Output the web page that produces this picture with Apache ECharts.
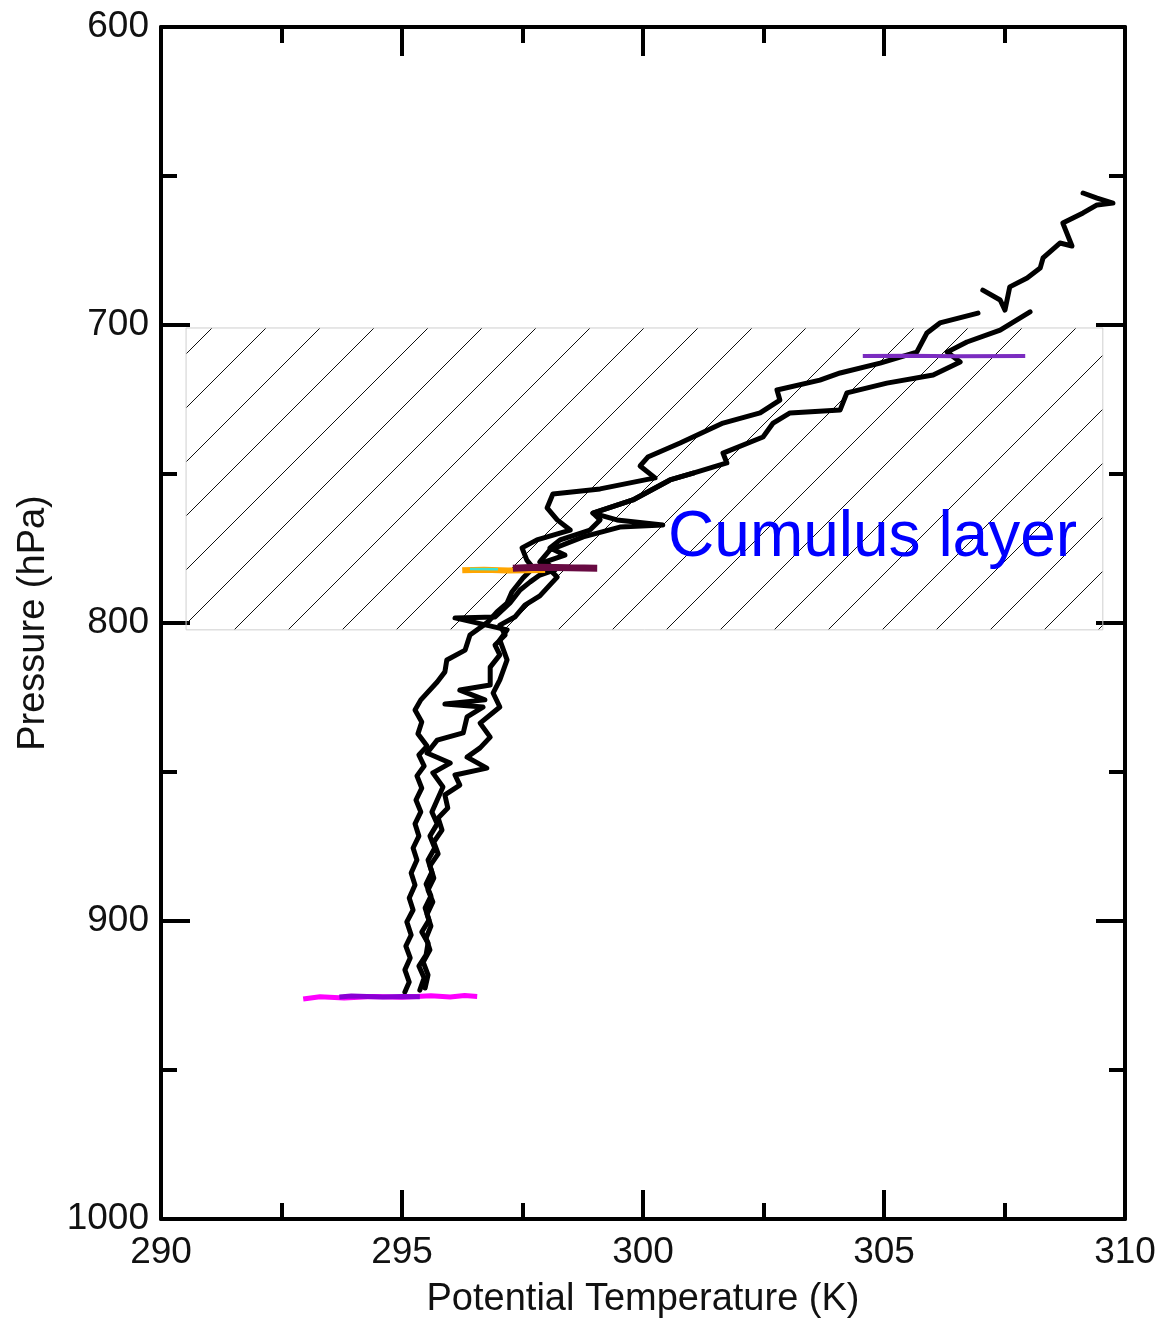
<!DOCTYPE html>
<html>
<head>
<meta charset="utf-8">
<title>Potential temperature profiles</title>
<script src="https://cdn.jsdelivr.net/npm/echarts@6/dist/echarts.min.js"></script>
<style>
  html, body { margin: 0; padding: 0; background: #fff; }
  #chart { width: 1166px; height: 1326px; }
</style>
</head>
<body>
<div id="chart"></div>
<script>
// soundings, each point is [potential temperature (K), pressure (hPa)]
const profileA = [[295.06,923.8],[295.15,920.5],[295.06,916.4],[295.17,912.4],[295.08,908.4],[295.19,904.7],[295.10,900.3],[295.23,896.3],[295.15,892.3],[295.27,887.9],[295.19,883.9],[295.31,879.5],[295.23,875.5],[295.35,871.5],[295.27,867.4],[295.39,863.4],[295.29,859.4],[295.41,855.4],[295.31,851.3],[295.46,848.0],[295.35,844.3],[295.52,841.3],[295.33,837.2],[295.41,833.2],[295.27,829.2],[295.39,825.8],[295.73,819.8],[295.89,816.4],[295.93,812.4],[296.31,809.1],[296.41,804.0],[296.78,799.7],[296.97,796.3],[297.18,793.3],[297.28,789.6],[297.51,784.9],[297.72,781.5],[297.59,778.9],[297.49,774.8],[297.80,772.1],[298.49,768.8],[298.22,765.4],[298.01,761.4],[298.13,756.7],[299.11,755.0],[300.25,751.3],[299.94,747.3],[300.10,744.3],[300.77,739.6],[301.66,732.9],[302.43,729.5],[302.84,725.2],[302.78,721.8],[303.67,718.5],[304.09,716.1],[304.92,712.8],[305.68,709.1],[305.89,702.7],[306.16,699.3],[306.95,696.0]]

const profileB = [[295.37,923.2],[295.46,919.1],[295.35,915.1],[295.50,911.4],[295.54,907.4],[295.41,903.7],[295.56,899.7],[295.48,895.6],[295.60,891.6],[295.50,887.6],[295.62,883.6],[295.54,879.5],[295.68,875.5],[295.58,871.5],[295.73,867.4],[295.62,863.4],[295.73,859.4],[295.85,855.0],[295.64,850.3],[296.00,847.0],[295.52,843.6],[295.73,839.3],[296.27,836.9],[296.35,831.5],[296.68,828.2],[295.89,827.2],[296.72,825.8],[296.20,822.5],[296.83,820.8],[296.83,814.8],[297.03,810.7],[296.93,807.4],[297.14,804.0],[297.03,800.7],[297.34,798.0],[297.55,794.0],[297.86,790.9],[298.07,787.2],[298.22,784.6],[298.03,781.5],[297.86,779.5],[298.07,775.5],[298.76,771.1],[299.52,767.8],[300.41,767.1],[299.46,765.4],[298.96,763.1],[299.79,758.7],[300.56,752.0],[301.04,749.7],[301.74,746.3],[301.66,743.0],[302.49,737.6],[302.70,732.9],[303.05,729.5],[304.09,728.5],[304.23,722.8],[305.06,719.5],[306.02,716.8],[306.58,712.4],[306.31,709.1],[306.72,705.7],[307.41,701.7],[308.03,695.6]]

const profileC = [[295.48,922.5],[295.54,918.1],[295.44,913.8],[295.58,909.7],[295.50,905.7],[295.60,901.7],[295.52,897.7],[295.64,893.6],[295.54,889.6],[295.66,885.6],[295.58,881.5],[295.75,877.5],[295.66,873.5],[295.83,869.5],[295.75,865.4],[295.95,862.1],[295.89,857.7],[296.20,854.4],[296.10,851.0],[296.76,848.7],[296.35,845.0],[296.62,841.9],[296.83,838.3],[296.62,833.6],[297.03,828.2],[296.89,823.5],[297.03,819.1],[297.18,812.4],[297.03,805.7],[297.18,802.3],[296.10,798.3],[296.93,798.0],[297.24,793.3],[297.45,788.9],[297.66,786.2],[297.86,783.9],[298.17,782.2],[297.97,779.5],[298.38,777.2],[298.07,774.8],[298.28,772.1],[298.90,768.8],[299.11,765.4],[298.96,763.1],[299.79,758.7],[300.56,752.0],[301.04,749.7]]

// upper piece above the cumulus layer
const profileTop = [[307.05,688.3],[307.41,691.6],[307.51,695.0],[307.61,687.2],[307.97,684.2],[308.24,680.9],[308.30,677.5],[308.65,672.5],[308.90,673.5],[308.71,665.8],[309.13,662.4],[309.42,659.7],[309.75,659.1],[309.42,657.4],[309.13,655.7]]

// constant pressure flight legs
const legMagenta = [[292.95,926.2],[293.3,925.4],[293.8,925.8],[294.4,925.3],[295.0,925.6],[295.6,925.1],[296.0,925.5],[296.3,925.0],[296.56,925.3]]
const legViolet = [[293.7,925.5],[293.95,925.2],[294.6,925.5],[295.0,925.3],[295.37,925.4]]
const legOrange = [[296.25,782.3],[296.7,782.1],[297.2,782.4],[297.97,782.2]]
const legCyan = [[296.41,781.9],[296.99,782.0]]
const legMaroon = [[297.3,781.6],[297.8,781.3],[298.5,781.5],[299.05,781.6]]
const legPurple = [[304.56,710.4],[305.5,710.3],[306.5,710.5],[307.93,710.4]]

// cumulus layer box: [theta left, p top], [theta right, p bottom]
const cumulusBox = [[290.52, 701.0], [309.54, 802.3]]
const cumulusLabelAt = [300.52, 771.5]

const xTicks = { min: 290, max: 310, interval: 5 }
const yTicks = { min: 600, max: 1000, interval: 100 }

const FONT = "'Liberation Sans', Arial, Helvetica, sans-serif"

// diagonal hatch tile
function hatchPattern() {
  const size = 54
  const c = document.createElement('canvas')
  c.width = size
  c.height = size
  const ctx = c.getContext('2d')
  ctx.strokeStyle = '#111'
  ctx.lineWidth = 1
  for (const k of [-size, 0, size]) {
    ctx.beginPath()
    ctx.moveTo(k - 10, size + 10)
    ctx.lineTo(k + size + 10, -10)
    ctx.stroke()
  }
  return c
}

function profileSeries(data) {
  return {
    type: 'line',
    data: data,
    symbol: 'none',
    silent: true,
    z: 3,
    lineStyle: { color: '#000', width: 5, join: 'round', cap: 'round' }
  }
}

function legSeries(data, color, width) {
  return {
    type: 'line',
    data: data,
    symbol: 'none',
    silent: true,
    z: 4,
    lineStyle: { color: color, width: width }
  }
}

function valueAxis(range, position, withLabels) {
  return {
    type: 'value',
    position: position,
    min: range.min,
    max: range.max,
    interval: range.interval,
    splitLine: { show: false },
    axisLine: { show: true, onZero: false, lineStyle: { color: '#000', width: 4 } },
    axisTick: { show: true, inside: true, length: 29, lineStyle: { color: '#000', width: 4 } },
    minorTick: { show: true, splitNumber: 2, length: 16, lineStyle: { color: '#000', width: 4 } },
    axisLabel: {
      show: withLabels,
      color: '#111',
      fontSize: 37,
      fontFamily: FONT,
      formatter: function (v) { return String(v) }
    }
  }
}

const xBottom = Object.assign(valueAxis(xTicks, 'bottom', true), {
  name: 'Potential Temperature (K)',
  nameLocation: 'middle',
  nameGap: 62,
  nameTextStyle: { color: '#111', fontSize: 38, fontFamily: FONT }
})
xBottom.axisLabel.margin = 15

const yLeft = Object.assign(valueAxis(yTicks, 'left', true), {
  inverse: true,
  name: 'Pressure (hPa)',
  nameLocation: 'middle',
  nameGap: 108,
  nameTextStyle: { color: '#111', fontSize: 38, fontFamily: FONT }
})
yLeft.axisLabel.margin = 12

const yRight = Object.assign(valueAxis(yTicks, 'right', false), { inverse: true })

const chart = echarts.init(document.getElementById('chart'))

const option = {
  animation: false,
  backgroundColor: '#fff',
  grid: { left: 161, right: 41, top: 27, bottom: 107 },
  xAxis: [xBottom, valueAxis(xTicks, 'top', false)],
  yAxis: [yLeft, yRight],
  series: [
    {
      type: 'line',
      data: [],
      z: 1,
      markArea: {
        silent: true,
        itemStyle: {
          color: { image: hatchPattern(), repeat: 'repeat' },
          borderColor: '#cfcfcf',
          borderWidth: 1
        },
        data: [[{ coord: cumulusBox[0] }, { coord: cumulusBox[1] }]]
      }
    },
    profileSeries(profileA),
    profileSeries(profileB),
    profileSeries(profileC),
    profileSeries(profileTop),
    legSeries(legMagenta, '#ff00ff', 5),
    legSeries(legViolet, '#8a00d4', 5),
    legSeries(legOrange, '#ffa500', 6),
    legSeries(legCyan, '#40e0d0', 2.5),
    legSeries(legMaroon, '#680a42', 7),
    legSeries(legPurple, '#7b2cc0', 4)
  ]
}

chart.setOption(option)

// label for the cumulus layer, anchored in data coordinates
const labelPos = chart.convertToPixel({ xAxisIndex: 0, yAxisIndex: 0 }, cumulusLabelAt)
chart.setOption({
  graphic: [{
    type: 'text',
    x: labelPos[0],
    y: labelPos[1],
    z: 10,
    style: {
      text: 'Cumulus layer',
      fill: '#0000ff',
      font: "64px 'Liberation Sans', Arial, Helvetica, sans-serif",
      verticalAlign: 'middle',
      align: 'left'
    }
  }]
})
</script>
</body>
</html>
